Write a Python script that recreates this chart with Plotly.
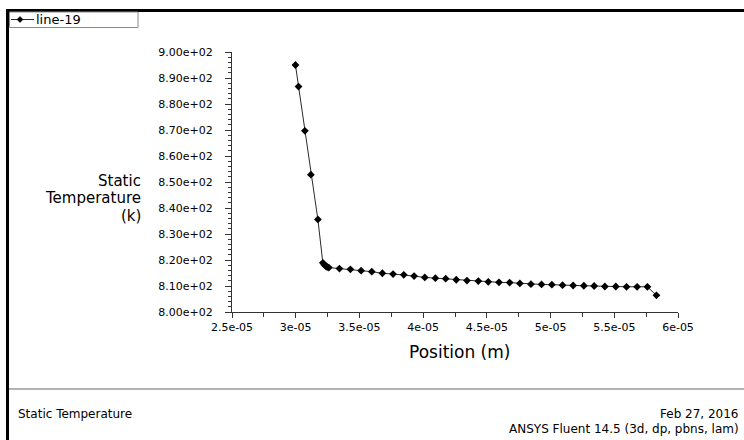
import plotly.graph_objects as go

# ---- data ----
position_m = [2.998e-05, 3.022e-05, 3.072e-05, 3.119e-05, 3.174e-05, 3.213e-05, 3.224e-05,
              3.235e-05, 3.247e-05, 3.260e-05, 3.343e-05, 3.429e-05, 3.513e-05, 3.597e-05,
              3.680e-05, 3.764e-05, 3.848e-05, 3.929e-05, 4.013e-05, 4.096e-05, 4.177e-05,
              4.260e-05, 4.344e-05, 4.433e-05, 4.511e-05, 4.595e-05, 4.679e-05, 4.759e-05,
              4.846e-05, 4.929e-05, 5.010e-05, 5.094e-05, 5.177e-05, 5.261e-05, 5.342e-05,
              5.426e-05, 5.512e-05, 5.596e-05, 5.679e-05, 5.760e-05, 5.831e-05]
static_temperature = [895.0, 886.7, 869.7, 852.8, 835.6, 818.9, 818.2, 817.7, 817.3, 817.1,
                      816.7, 816.4, 815.9, 815.5, 814.9, 814.6, 814.3, 813.8, 813.3, 813.0,
                      812.8, 812.4, 812.1, 811.9, 811.6, 811.4, 811.3, 811.0, 810.7, 810.6,
                      810.5, 810.3, 810.2, 810.1, 810.0, 809.8, 809.8, 809.7, 809.7, 809.7,
                      806.4]
series_name = "line-19"

x_tickvals = [2.5e-05, 3e-05, 3.5e-05, 4e-05, 4.5e-05, 5e-05, 5.5e-05, 6e-05]
x_ticktext = ["2.5e-05", "3e-05", "3.5e-05", "4e-05", "4.5e-05", "5e-05", "5.5e-05", "6e-05"]
y_tickvals = [800, 810, 820, 830, 840, 850, 860, 870, 880, 890, 900]
y_ticktext = ["8.00e+02", "8.10e+02", "8.20e+02", "8.30e+02", "8.40e+02", "8.50e+02",
              "8.60e+02", "8.70e+02", "8.80e+02", "8.90e+02", "9.00e+02"]

# ---- layout geometry (page pixels; body margin removed via post_script) ----
W, H = 744, 440
PAGE_L, PAGE_R, PAGE_T, PAGE_B = 232, 678, 52, 312   # plot area
ML, MT = PAGE_L, PAGE_T
MR, MB = W - PAGE_R, H - PAGE_B
PW, PH = PAGE_R - PAGE_L, PAGE_B - PAGE_T


def px(x):
    return (x - PAGE_L) / PW


def py(y):
    return 1 - (y - PAGE_T) / PH


FONT = "DejaVu Sans, Liberation Sans, Arial, sans-serif"
AX = "#333333"

fig = go.Figure()
fig.add_trace(go.Scatter(
    x=position_m, y=static_temperature, mode="lines+markers", name=series_name,
    line=dict(color="#2a2a2a", width=1),
    marker=dict(symbol="diamond", size=6, color="black"),
    showlegend=False,
))

fig.update_layout(
    width=W, height=H,
    margin=dict(l=ML, r=MR, t=MT, b=MB, pad=0),
    paper_bgcolor="white", plot_bgcolor="white",
    font=dict(family=FONT, color="black"),
    xaxis=dict(
        range=[2.5e-05, 6e-05], showgrid=False, zeroline=False,
        showline=True, linecolor=AX, linewidth=1,
        tickvals=x_tickvals, ticktext=x_ticktext,
        ticks="outside", ticklen=5, tickcolor=AX, tickwidth=1,
        tickfont=dict(size=11, family=FONT, color="black"),
        minor=dict(dtick=0.25e-05, ticks="outside", ticklen=4, tickcolor=AX, showgrid=False),
    ),
    yaxis=dict(
        range=[800, 900], showgrid=False, zeroline=False,
        showline=True, linecolor=AX, linewidth=1,
        tickvals=y_tickvals, ticktext=y_ticktext,
        ticks="outside", ticklen=6, tickcolor=AX, tickwidth=1,
        ticklabelstandoff=10,
        tickfont=dict(size=11, family=FONT, color="black"),
        minor=dict(dtick=2, ticks="outside", ticklen=3, tickcolor=AX, showgrid=False),
    ),
)

shapes = []
# outer frame (top and left thick border)
shapes.append(dict(type="line", xref="paper", yref="paper",
                   x0=px(6), x1=px(746), y0=py(10.5), y1=py(10.5),
                   line=dict(color="black", width=3)))
shapes.append(dict(type="line", xref="paper", yref="paper",
                   x0=px(7.5), x1=px(7.5), y0=py(9), y1=py(442),
                   line=dict(color="black", width=3)))
# separator above footer
shapes.append(dict(type="line", xref="paper", yref="paper",
                   x0=px(9), x1=px(746), y0=py(389), y1=py(389),
                   line=dict(color="#999999", width=1.5)))
# legend box
shapes.append(dict(type="rect", xref="paper", yref="paper",
                   x0=px(9.5), x1=px(138), y0=py(12), y1=py(27.5),
                   line=dict(color="#8a8a8a", width=1), fillcolor="white"))
# legend symbol: line + diamond
shapes.append(dict(type="line", xref="paper", yref="paper",
                   x0=px(11), x1=px(34), y0=py(19.5), y1=py(19.5),
                   line=dict(color="#2a2a2a", width=1)))
cx, cy, r = 20, 19.5, 3
shapes.append(dict(type="path", xref="paper", yref="paper",
                   path=(f"M {px(cx - r)} {py(cy)} L {px(cx)} {py(cy - r)} "
                         f"L {px(cx + r)} {py(cy)} L {px(cx)} {py(cy + r)} Z"),
                   line=dict(color="black", width=0.5), fillcolor="black"))
fig.update_layout(shapes=shapes)

annotations = [
    dict(text=series_name, x=px(35), y=py(19.5), xanchor="left", yanchor="middle",
         font=dict(size=13, family=FONT)),
    dict(text="Static", x=px(142), y=py(180.5), xanchor="right", yanchor="middle",
         font=dict(size=15, family=FONT)),
    dict(text="Temperature", x=px(142), y=py(198), xanchor="right", yanchor="middle",
         font=dict(size=15, family=FONT)),
    dict(text="(k)", x=px(142), y=py(215.5), xanchor="right", yanchor="middle",
         font=dict(size=15, family=FONT)),
    dict(text="Position (m)", x=px(459), y=py(352), xanchor="center", yanchor="middle",
         font=dict(size=17, family=FONT)),
    dict(text="Static Temperature", x=px(17), y=py(414), xanchor="left", yanchor="middle",
         font=dict(size=12, family=FONT)),
    dict(text="Feb 27, 2016", x=px(740), y=py(414), xanchor="right", yanchor="middle",
         font=dict(size=12, family=FONT)),
    dict(text="ANSYS Fluent 14.5 (3d, dp, pbns, lam)", x=px(740), y=py(429),
         xanchor="right", yanchor="middle", font=dict(size=12, family=FONT)),
]
for a in annotations:
    a.update(xref="paper", yref="paper", showarrow=False, borderpad=0)
fig.update_layout(annotations=annotations)

fig.write_html(
    "out.html",
    config={"displayModeBar": False},
    post_script=("document.body.style.margin='0';"
                 "document.documentElement.style.overflow='hidden';"
                 "document.body.style.overflow='hidden';"),
)
